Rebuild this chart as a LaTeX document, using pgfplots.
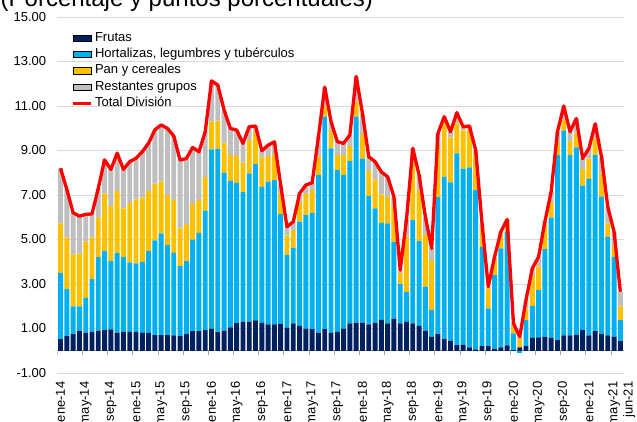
\documentclass[border=0pt]{standalone}
\usepackage{fontspec}
\setmainfont{Liberation Sans}
\usepackage{pgfplots}
\usepackage{pgfplotstable}
\pgfplotsset{compat=1.18}
\definecolor{cNav}{HTML}{002060}
\definecolor{cBlue}{HTML}{00B0F0}
\definecolor{cYel}{HTML}{FFC000}
\definecolor{cGray}{HTML}{BFBFBF}
\definecolor{cGrid}{HTML}{D9D9D9}
\definecolor{cAx}{HTML}{A6A6A6}
\definecolor{cRed}{HTML}{FF0000}
\pgfplotsset{
  barleg/.style={legend image code/.code={\fill[##1] (0pt,-3.2pt) rectangle (18.4pt,3.2pt);}},
  lineleg/.style={legend image code/.code={\draw[##1] (0pt,0pt) -- (18.4pt,0pt);}},
}

\pgfplotstableread{
x N H P R T
0 0.52 2.97 2.24 2.47 8.20
1 0.66 2.11 2.31 2.17 7.25
2 0.75 1.25 2.33 1.87 6.20
3 0.90 1.10 2.36 1.69 6.05
4 0.82 1.56 2.52 1.23 6.13
5 0.85 2.37 1.88 1.05 6.15
6 0.90 3.31 1.77 1.32 7.30
7 0.93 3.55 2.58 1.52 8.58
8 0.96 3.07 2.47 1.65 8.15
9 0.82 3.57 2.78 1.71 8.88
10 0.85 3.36 2.19 1.75 8.15
11 0.85 3.12 2.66 1.87 8.50
12 0.85 3.08 2.87 1.85 8.65
13 0.80 3.20 2.88 2.07 8.95
14 0.80 3.68 2.70 2.15 9.33
15 0.70 4.26 2.55 2.42 9.93
16 0.70 4.58 2.32 2.55 10.15
17 0.70 4.05 2.25 2.99 9.99
18 0.69 3.71 2.37 2.88 9.65
19 0.66 3.14 1.70 3.07 8.57
20 0.75 3.28 1.66 2.95 8.64
21 0.88 4.12 1.60 2.54 9.14
22 0.88 4.42 1.47 2.17 8.94
23 0.93 5.37 1.50 2.04 9.84
24 0.99 8.06 1.25 1.83 12.13
25 0.84 8.24 1.26 1.60 11.94
26 0.90 7.10 1.32 1.50 10.82
27 1.05 6.59 1.16 1.19 9.99
28 1.24 6.31 1.21 1.16 9.92
29 1.31 5.82 1.33 0.86 9.32
30 1.31 6.66 1.50 0.60 10.07
31 1.36 7.03 1.45 0.26 10.10
32 1.25 6.12 1.32 0.30 8.99
33 1.19 6.41 1.16 0.48 9.24
34 1.19 6.48 1.17 0.55 9.39
35 1.20 4.94 0.93 0.38 7.45
36 1.03 3.27 0.87 0.40 5.57
37 1.23 3.41 0.78 0.38 5.80
38 1.12 4.68 0.85 0.42 7.07
39 1.00 5.10 0.94 0.41 7.45
40 0.97 5.23 1.02 0.33 7.55
41 0.82 7.08 0.82 0.90 9.62
42 0.97 9.55 0.45 0.88 11.85
43 0.82 8.27 0.83 0.38 10.30
44 0.85 7.27 0.67 0.61 9.40
45 1.00 6.90 0.89 0.53 9.32
46 1.23 7.29 0.68 0.50 9.70
47 1.26 9.26 0.68 1.13 12.33
48 1.26 7.38 1.10 0.93 10.67
49 1.18 5.77 1.12 0.65 8.72
50 1.26 5.14 1.30 0.80 8.50
51 1.39 4.36 1.28 1.01 8.04
52 1.23 4.49 1.20 0.90 7.82
53 1.44 3.46 1.57 0.45 6.92
54 1.23 1.77 0.50 0.12 3.62
55 1.30 1.35 2.47 0.78 5.90
56 1.23 4.64 2.70 0.53 9.10
57 1.12 3.81 2.29 0.68 7.90
58 0.90 1.98 2.32 0.82 6.02
59 0.63 1.20 2.24 0.53 4.60
60 0.75 6.17 2.32 0.53 9.77
61 0.52 7.30 2.40 0.30 10.52
62 0.45 7.12 2.02 0.25 9.84
63 0.25 8.62 1.35 0.48 10.70
64 0.28 7.90 1.71 0.18 10.07
65 0.15 8.09 1.75 0.11 10.10
66 0.06 7.16 1.57 0.23 9.02
67 0.21 4.46 0.90 0.18 5.75
68 0.21 1.69 0.90 0.08 2.88
69 0.09 3.31 0.75 0.07 4.22
70 0.15 4.45 0.60 0.15 5.35
71 0.24 5.11 0.40 0.15 5.90
72 0.03 0.75 0.30 0.15 1.23
73 0.15 0.00 0.38 0.10 0.63
74 0.21 1.17 0.52 0.38 2.28
75 0.58 1.44 1.38 0.30 3.70
76 0.60 2.13 1.05 0.44 4.22
77 0.63 3.94 1.08 0.15 5.80
78 0.58 5.40 0.69 0.48 7.15
79 0.48 8.31 0.60 0.45 9.84
80 0.69 9.20 0.48 0.63 11.00
81 0.69 8.10 0.63 0.42 9.84
82 0.73 8.41 0.63 0.67 10.44
83 0.93 6.49 0.74 0.48 8.64
84 0.69 7.03 0.92 0.45 9.09
85 0.88 7.91 0.75 0.66 10.20
86 0.75 6.17 1.05 0.75 8.72
87 0.69 4.43 0.60 0.75 6.47
88 0.63 3.59 0.53 0.60 5.35
89 0.43 0.95 0.62 0.65 2.65
}\datatable

\begin{document}
\begin{tikzpicture}
\node[anchor=base west, inner sep=0pt, font=\fontsize{24}{28}\selectfont] at (0.5pt,414pt) {(Porcentaje y puntos porcentuales)};
\begin{axis}[
  at={(57.4pt,48pt)}, anchor=south west, scale only axis,
  width=566.1pt, height=356pt,
  xmin=-0.5, xmax=89.5, ymin=-1, ymax=15,
  ybar stacked, bar width=0.78,
  axis line style={draw=none},
  major tick length=0pt,
  ymajorgrids, grid style={cGrid, line width=0.8pt},
  ytick={-1,1,...,15},
  yticklabels={-1.00,1.00,3.00,5.00,7.00,9.00,11.00,13.00,15.00},
  xtick={0,4,...,88},
  xticklabels={ene-14,may-14,sep-14,ene-15,may-15,sep-15,ene-16,may-16,sep-16,ene-17,may-17,sep-17,ene-18,may-18,sep-18,ene-19,may-19,sep-19,ene-20,may-20,sep-20,ene-21,may-21},
  extra x ticks={89},
  extra x tick labels={jun-21},
  extra x tick style={xticklabel style={yshift=-9pt}},
  tick label style={font=\fontsize{13}{15}\selectfont, text=black},
  yticklabel style={inner sep=0pt, xshift=-11pt},
  xticklabel style={yshift=-8.5pt, rotate=90, anchor=east, inner sep=0pt},
]
\addplot[fill=cNav, draw=none] table[x=x,y=N]{\datatable};
\addplot[fill=cBlue, draw=none] table[x=x,y=H]{\datatable};
\addplot[fill=cYel, draw=none] table[x=x,y=P]{\datatable};
\addplot[fill=cGray, draw=none] table[x=x,y=R]{\datatable};
\draw[cAx, line width=0.8pt] (axis cs:-0.5,0) -- (axis cs:89.5,0);
\pgfplotsinvokeforeach{-0.5,3.5,...,87.5}{\draw[cAx, line width=0.8pt] (axis cs:#1,0) -- ++(0pt,-4.5pt);}
\end{axis}
\begin{axis}[
  at={(57.4pt,48pt)}, anchor=south west, scale only axis,
  width=566.1pt, height=356pt,
  xmin=-0.5, xmax=89.5, ymin=-1, ymax=15,
  hide axis,
  legend style={at={(0.0246,0.9635)}, anchor=north west, draw=none, fill=none,
    inner sep=0pt, outer sep=0pt, row sep=0pt,
    font=\fontsize{13}{15}\selectfont,
    nodes={inner xsep=2pt, inner ysep=1.65pt, text height=9.7pt, text depth=3.3pt}},
  legend cell align=left,
]
\addlegendimage{barleg, fill=cNav}
\addlegendimage{barleg, fill=cBlue}
\addlegendimage{barleg, fill=cYel}
\addlegendimage{barleg, fill=cGray}
\addplot[cRed, line width=3.3pt, line join=round, mark=none, lineleg] table[x=x,y=T]{\datatable};
\addplot[ybar, bar width=0.78, fill=cBlue, draw=none, forget plot] coordinates {(73,-0.12)};
\legend{Frutas,{Hortalizas, legumbres y tubérculos},Pan y cereales,Restantes grupos,Total División}
\end{axis}
\pgfresetboundingbox
\useasboundingbox (0,0) rectangle (637pt,421pt);
\end{tikzpicture}
\end{document}
